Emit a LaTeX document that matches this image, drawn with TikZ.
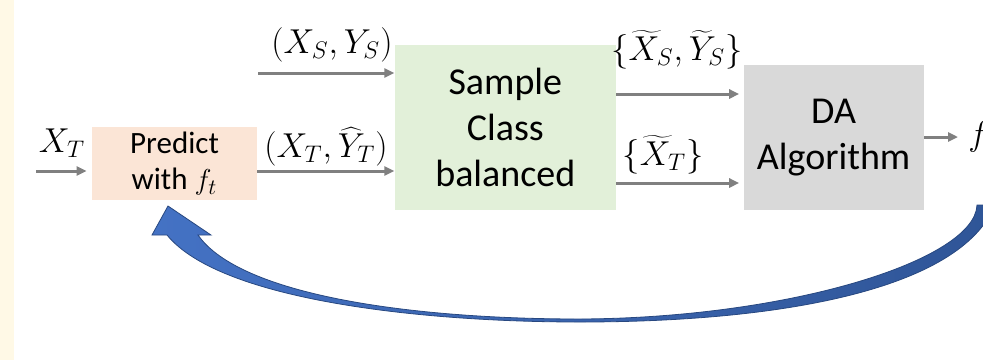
\documentclass[tikz,border=0pt]{standalone}
\usepackage{fontspec}
\setmainfont{Carlito}
\usepackage{xcolor}
\definecolor{cPred}{HTML}{FBE5D6}
\definecolor{cSample}{HTML}{E2F0D9}
\definecolor{cAlgo}{HTML}{D9D9D9}
\definecolor{cLine}{HTML}{808080}
\definecolor{cLoop}{HTML}{4472C4}
\definecolor{cLoopDk}{HTML}{2F5597}
\definecolor{cStrip}{HTML}{FFF9E6}
\usepackage{tikz}
\usetikzlibrary{positioning,arrows.meta}
\tikzset{
  node-box/.style={inner sep=0pt,align=center,
    font=\fontsize{19}{22.8}\selectfont},
  node-pred/.style={fill=cPred,minimum width=82.5pt,minimum height=36.5pt,
    font=\fontsize{15.5}{18.3}\selectfont},
  node-sample/.style={fill=cSample,minimum width=110.5pt,minimum height=82.5pt},
  node-algo/.style={fill=cAlgo,minimum width=90pt,minimum height=72.5pt},
  math-lbl/.style={inner sep=0pt,font=\fontsize{17}{20}\selectfont},
  arrow/.style={-{Triangle[length=5pt,width=4.5pt]},line width=1.5pt,draw=cLine},
  % block arrow going back, drawn as one filled shape
  loop-arrow/.style={left color=cLoop,right color=cLoopDk,
    draw=cLoopDk!85!black,line width=0.4pt},
}

\begin{document}
\begin{tikzpicture}[x=0.5pt,y=-0.5pt]
  \useasboundingbox (0,0) rectangle (983,360);
  \clip (0,0) rectangle (983,360);
  \fill[cStrip] (0,0) rectangle (14,360);

  \node[node-box,node-pred] (pred) at (174.5,163.5) {Predict\\with $f_t$};
  \node[node-box,node-sample,right=68.5pt of pred,yshift=18pt] (smp)
    {Sample\\Class\\balanced};
  \node[node-box,node-algo,right=63.5pt of smp,yshift=-5pt] (algo)
    {DA\\Algorithm};

  \coordinate (xin)  at (36,171);
  \coordinate (xs)   at (258,73);
  \coordinate (fout) at (958,137);
  \node[math-lbl] (lxt) at (62,143)  {$X_T$};
  \node[math-lbl] (lxs) at (332,45)  {$(X_S,Y_S)$};
  \node[math-lbl] (lxy) at (326,147) {$(X_T,\widehat{Y}_T)$};
  \node[math-lbl] (lss) at (677,50)  {$\{\widetilde{X}_S,\widetilde{Y}_S\}$};
  \node[math-lbl] (lst) at (663,155) {$\{\widetilde{X}_T\}$};
  \node[math-lbl,right=5pt of fout] (fo) {$f$};

  \draw[arrow,shorten >=2.5pt] (xin) -- (pred.west |- xin);
  \draw[arrow] (pred.east |- xin) -- (smp.west |- xin);
  \draw[arrow] (xs) -- (smp.west |- xs);
  \draw[arrow,shorten >=2pt] (smp.east |- 0,94)  -- (algo.west |- 0,94);
  \draw[arrow,shorten >=2pt] (smp.east |- 0,183) -- (algo.west |- 0,183);
  \draw[arrow] (algo.east |- fout) -- (fout);

  \path[loop-arrow] (995,205) .. controls (960,290) and (780,322) .. (580,322)
    .. controls (420,322) and (220,300) .. (167,235) -- (152,235) -- (168,206)
    -- (211,235) -- (198,235)
    .. controls (240,295) and (410,319) .. (580,319)
    .. controls (790,318) and (975,260) .. (977,205) -- cycle;
\end{tikzpicture}
\end{document}
